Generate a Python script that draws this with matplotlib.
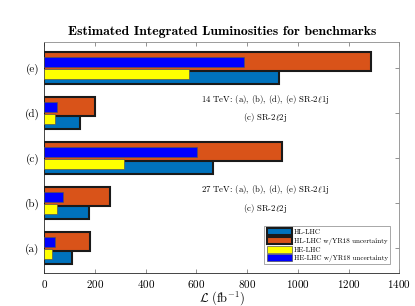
import numpy as np
import matplotlib
matplotlib.use('Agg')
import matplotlib.pyplot as plt

plt.rcParams['font.family'] = ['cmr10', 'DejaVu Serif']
plt.rcParams['mathtext.fontset'] = 'cm'
plt.rcParams['axes.formatter.use_mathtext'] = True

categories = ['(a)', '(b)', '(c)', '(d)', '(e)']
hl_lhc = [109, 176, 665, 141, 925]
hl_lhc_yr18 = [180, 260, 937, 201, 1288]
he_lhc = [32, 49, 314, 42, 572]
he_lhc_yr18 = [41, 72, 601, 51, 787]
series_labels = ['HL-LHC', 'HL-LHC w/YR18 uncertainty', 'HE-LHC', 'HE-LHC w/YR18 uncertainty']

pos = np.arange(1, len(categories) + 1)
off = 0.14

fig = plt.figure(figsize=(4.15, 3.06), dpi=100)
ax = fig.add_axes([44.3/415, 1 - 273.3/306, 355/415, 231.6/306])

b1 = ax.barh(pos - off, hl_lhc, height=0.42, color='#0072BD', edgecolor='#1a1a1a',
             linewidth=1.5, label=series_labels[0], zorder=2)
b2 = ax.barh(pos + off, hl_lhc_yr18, height=0.42, color='#D95319', edgecolor='#1a1a1a',
             linewidth=1.5, label=series_labels[1], zorder=3)
b3 = ax.barh(pos - off, he_lhc, height=0.22, color='#FFFF00', edgecolor='#555555',
             linewidth=0.5, label=series_labels[2], zorder=4)
b4 = ax.barh(pos + off, he_lhc_yr18, height=0.22, color='#0000FF', edgecolor='#555555',
             linewidth=0.5, label=series_labels[3], zorder=5)

ax.set_xlim(0, 1400)
ax.set_ylim(0.44, 5.585)
ax.set_yticks(pos)
ax.set_yticklabels(categories, fontsize=8)
ax.set_xticks(np.arange(0, 1401, 200))
ax.tick_params(axis='x', labelsize=8)
ax.tick_params(direction='in', top=True, right=True, length=3, width=0.5, color='0.4')
for s in ax.spines.values():
    s.set_linewidth(0.6)
    s.set_color('0.55')
ax.spines['left'].set_color('0.15')
ax.spines['bottom'].set_color('0.15')

ax.set_title('Estimated Integrated Luminosities for benchmarks', fontsize=9.9,
             family='cmb10', pad=5)
ax.set_xlabel(r'$\mathcal{L}\ (\mathrm{fb}^{-1})$', fontsize=9, labelpad=-1)

ax.text(870, 4.30, r'14 TeV: (a), (b), (d), (e) SR-2$\ell$1j', ha='center', va='center', fontsize=6.3)
ax.text(870, 3.91, r'(c) SR-2$\ell$2j', ha='center', va='center', fontsize=6.3)
ax.text(870, 2.30, r'27 TeV: (a), (b), (d), (e) SR-2$\ell$1j', ha='center', va='center', fontsize=6.3)
ax.text(870, 1.88, r'(c) SR-2$\ell$2j', ha='center', va='center', fontsize=6.3)

leg = ax.legend(loc='lower right', fontsize=5.1, frameon=True, fancybox=False,
                edgecolor='0.5', borderpad=0.3, labelspacing=0.2, handlelength=3.6,
                handleheight=1.1, handletextpad=0.25, borderaxespad=1.3)
leg.get_frame().set_linewidth(0.6)

fig.savefig('out.png', dpi=100)
